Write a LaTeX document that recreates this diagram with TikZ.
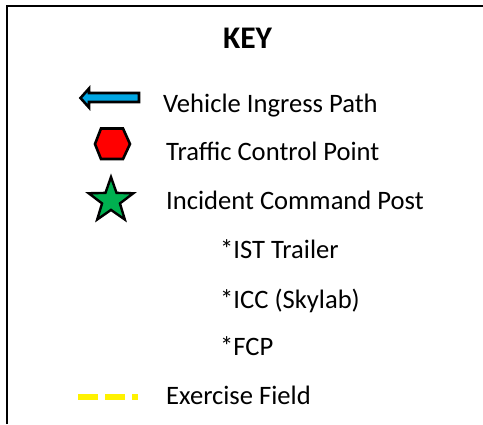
\documentclass[tikz,border=0pt]{standalone}
\usepackage{fontspec}
\setmainfont{Carlito}
\usetikzlibrary{shapes.geometric}
\definecolor{keyblue}{RGB}{0,166,226}
\definecolor{keygreen}{RGB}{0,176,80}
\tikzset{
 keylabel/.style={anchor=base west,inner sep=0pt,font=\fontsize{26.6bp}{30bp}\selectfont,text=black},
 sym/.style={draw=black,line width=2.6bp,line join=miter},
 exfield/.style={draw=yellow,line width=6bp,dash pattern=on 20bp off 7bp}
}
\begin{document}
\begin{tikzpicture}[x=1bp,y=-1bp]
\useasboundingbox (0,0) rectangle (483,424);
\fill[white] (0,0) rectangle (483,424);
\draw[line width=2.4bp] (7,424) coordinate (bl) -- (7,6) coordinate (tl) -- (483,6) coordinate (tr);
\node[anchor=base,inner sep=0pt,font=\fontsize{31.5bp}{34bp}\selectfont\bfseries] (title) at (247.5,48) {KEY};
\filldraw[sym,fill=keyblue] (80.5,98) -- (89,88.5) -- (89,93) -- (139,93) -- (139,102) -- (89,102) -- (89,107.5) -- cycle;
\filldraw[sym,fill=red] (95,144) -- (101,128.5) -- (123,128.5) -- (130,144) -- (123,159) -- (101,159) -- cycle;
\node[draw=black,line width=2.4bp,fill=keygreen,star,star points=5,star point ratio=2.5,minimum size=47bp,inner sep=0pt] (star) at (111,200.5) {};
\node[keylabel] (l1) at (163,112) {Vehicle Ingress Path};
\node[keylabel] (l2) at (166,160) {Traffic Control Point};
\node[keylabel] (l3) at (166,209) {Incident Command Post};
\node[keylabel] (l4) at (220,258) {*IST Trailer};
\node[keylabel] (l5) at (220,308) {*ICC (Skylab)};
\node[keylabel] (l6) at (220,355) {*FCP};
\node[keylabel] (l7) at (166,404) {Exercise Field};
\coordinate (e1) at (78,397);
\coordinate (e2) at (138,397);
\draw[exfield] (e1) -- (e2);
\end{tikzpicture}
\end{document}
